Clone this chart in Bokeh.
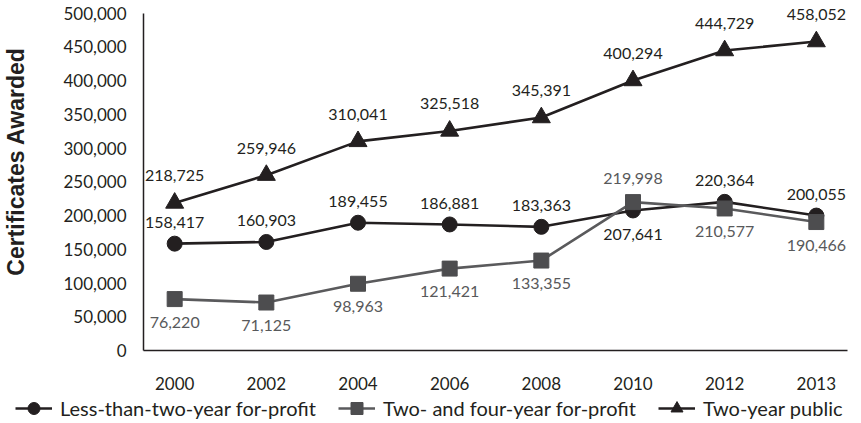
from bokeh.plotting import figure
from bokeh.models import (ColumnDataSource, FactorRange, NumeralTickFormatter,
                          Legend, LegendItem, SingleIntervalTicker, Range1d)
from bokeh.core.properties import value
from bokeh.embed import file_html
from bokeh.resources import INLINE

years = ["2000", "2002", "2004", "2006", "2008", "2010", "2012", "2013"]
less_than_two = [158417, 160903, 189455, 186881, 183363, 207641, 220364, 200055]
two_four = [76220, 71125, 98963, 121421, 133355, 219998, 210577, 190466]
two_public = [218725, 259946, 310041, 325518, 345391, 400294, 444729, 458052]
y_ticks_max = 500000
y_title = "Certificates Awarded"

# label placement (style)
lt_pos = ["above", "above", "above", "above", "above", "below", "above", "above"]
tf_pos = ["below", "below", "below", "below", "below", "above", "below", "below"]
pub_pos = ["above"] * 8

DARK = "#231f20"
GRAY = "#4d4d4f"
GRAY_LINE = "#5a5a5c"
GRAY_TEXT = "#58595b"
FONT = "Lato"

p = figure(width=861, height=393, output_backend="svg", toolbar_location=None,
           x_range=FactorRange(*years, range_padding=-0.04, range_padding_units="percent"),
           y_range=(0, 513000),
           min_border_left=143, min_border_right=14, min_border_top=4, min_border_bottom=43)
p.outline_line_color = None
p.xgrid.grid_line_color = None
p.ygrid.grid_line_color = None

for ax in (p.xaxis, p.yaxis):
    ax.axis_line_color = DARK
    ax.axis_line_width = 1.5
    ax.major_tick_line_color = None
    ax.minor_tick_line_color = None
    ax.major_tick_out = 0
    ax.major_label_text_font = FONT
    ax.major_label_text_font_size = "17px"
    ax.major_label_text_color = DARK
p.xaxis.major_label_standoff = 26
p.yaxis.major_label_standoff = 13
p.yaxis.bounds = (0, y_ticks_max)
p.yaxis.ticker = SingleIntervalTicker(interval=50000)
p.yaxis.formatter = NumeralTickFormatter(format="0,0")
# leading no-break spaces nudge the rotated title upward, as in the reference
p.yaxis.axis_label = "\u00a0" * 5 + y_title
p.yaxis.axis_label_text_font = "Liberation Sans"
p.yaxis.axis_label_text_font_style = "bold"
p.yaxis.axis_label_text_font_size = "23px"
p.yaxis.axis_label_text_color = DARK
p.yaxis.axis_label_standoff = 31


def offsets(pos, up, down):
    return [up if s == "above" else down for s in pos]


series = [
    (less_than_two, lt_pos, "circle", DARK, DARK, DARK, 15, -21, 24),
    (two_four, tf_pos, "square", GRAY, GRAY_LINE, GRAY_TEXT, 15, -24, 23),
    (two_public, pub_pos, "triangle", DARK, DARK, DARK, 18, -27, 24),
]
names = ["Less-than-two-year for-profit", "Two- and four-year for-profit", "Two-year public"]

# legend strip: a separate root so its frame spans the full width
leg = figure(width=861, height=30, output_backend="svg", toolbar_location=None,
             x_range=FactorRange(*years), y_range=Range1d(-2, -1),
             x_axis_location=None, y_axis_location=None,
             min_border_left=0, min_border_right=0, min_border_top=0, min_border_bottom=0)
leg.outline_line_color = None
leg.grid.visible = False

items = []
for (vals, pos, marker, mcol, lcol, tcol, msize, up, down), name in zip(series, names):
    src = ColumnDataSource(dict(x=years, y=vals, lab=[f"{v:,}" for v in vals],
                                yo=offsets(pos, up, down)))
    p.line("x", "y", source=src, line_color=lcol, line_width=2.6)
    p.scatter("x", "y", source=src, marker=marker, size=msize,
              fill_color=mcol, line_color=mcol)
    p.text("x", "y", text="lab", source=src, y_offset="yo", text_align="center",
           text_baseline="middle", text_font=value(FONT), text_font_size="16px",
           text_color=tcol)
    ln = leg.line("x", "y", source=src, line_color=lcol, line_width=2.6)
    sc = leg.scatter("x", "y", source=src, marker=marker, size=msize,
                     fill_color=mcol, line_color=mcol)
    items.append(LegendItem(label=name, renderers=[ln, sc]))

legend = Legend(items=items, orientation="horizontal", location=(15, 0),
                label_text_font=FONT, label_text_font_size="20px", label_text_color=DARK,
                glyph_width=37, glyph_height=30, label_standoff=8, spacing=22,
                padding=0, margin=0, border_line_alpha=0, background_fill_alpha=0)
leg.add_layout(legend, "center")

open("out.html", "w").write(file_html([p, leg], INLINE))
